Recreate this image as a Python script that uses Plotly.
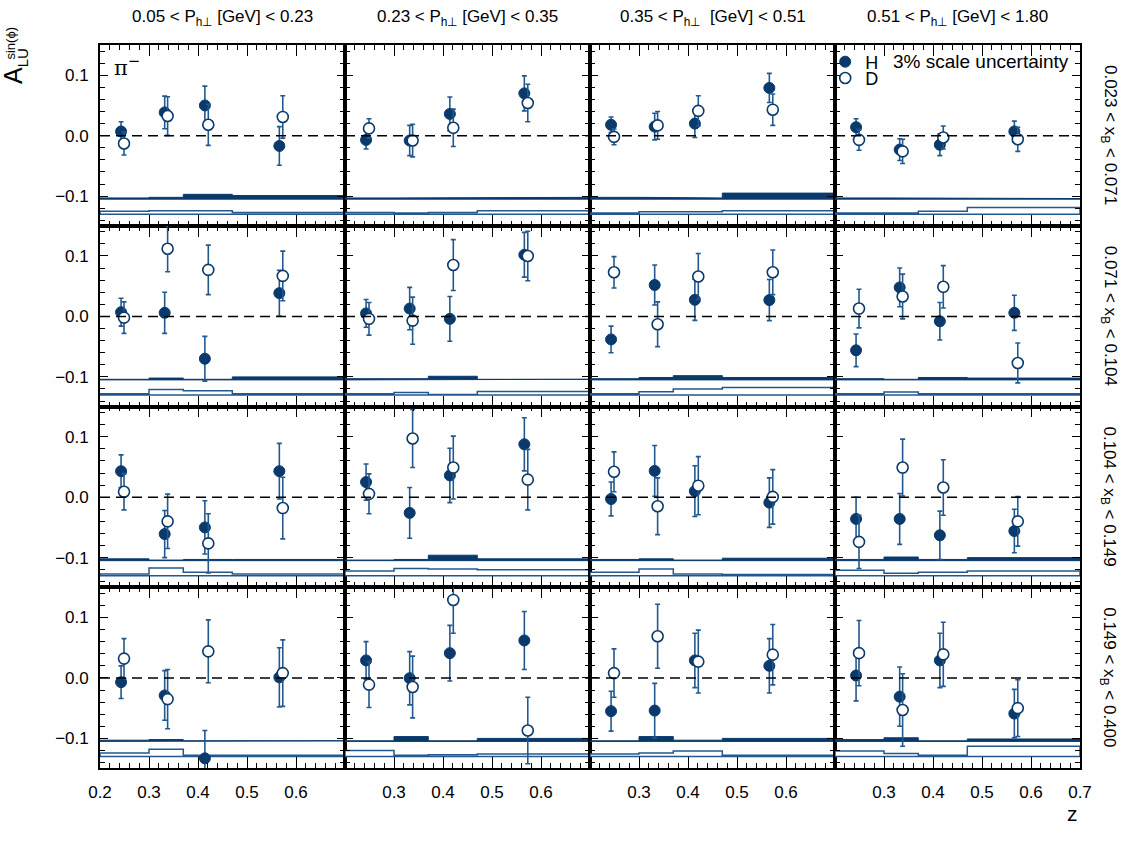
import plotly.graph_objects as go
from plotly.subplots import make_subplots

# ---------------- data ----------------
z_bin_edges = [0.2, 0.3, 0.37, 0.47, 0.7]
z_H = [0.243, 0.332, 0.414, 0.566]
z_D = [0.249, 0.338, 0.421, 0.573]

col_titles = ["0.05 < P<sub>h⊥</sub> [GeV] < 0.23", "0.23 < P<sub>h⊥</sub> [GeV] < 0.35",
              "0.35 < P<sub>h⊥</sub>  [GeV] < 0.51", "0.51 < P<sub>h⊥</sub> [GeV] < 1.80"]
row_titles = ["0.023 < x<sub>B</sub> < 0.071", "0.071 < x<sub>B</sub> < 0.104",
              "0.104 < x<sub>B</sub> < 0.149", "0.149 < x<sub>B</sub> < 0.400"]

# rows: x_B bins (top -> bottom); cols: P_h bins (left -> right); 4 z points each
H_val = [
    [[0.007, 0.0385, 0.050, -0.017], [-0.007, -0.008, 0.036, 0.070], [0.018, 0.015, 0.020, 0.079], [0.014, -0.023, -0.015, 0.007]],
    [[0.007, 0.006, -0.070, 0.0385], [0.005, 0.013, -0.004, 0.102], [-0.038, 0.052, 0.0275, 0.027], [-0.056, 0.048, -0.008, 0.006]],
    [[0.043, -0.061, -0.050, 0.043], [0.025, -0.026, 0.036, 0.0875], [-0.003, 0.0435, 0.010, -0.009], [-0.036, -0.036, -0.063, -0.056]],
    [[-0.007, -0.029, -0.133, 0.001], [0.029, -0.0005, 0.041, 0.062], [-0.055, -0.054, 0.029, 0.020], [0.004, -0.031, 0.029, -0.059]],
]
H_err = [
    [[0.016, 0.027, 0.032, 0.032], [0.015, 0.025, 0.028, 0.029], [0.013, 0.022, 0.023, 0.024], [0.014, 0.018, 0.018, 0.017]],
    [[0.023, 0.034, 0.037, 0.038], [0.023, 0.035, 0.037, 0.037], [0.022, 0.033, 0.034, 0.034], [0.027, 0.032, 0.031, 0.029]],
    [[0.027, 0.039, 0.044, 0.046], [0.030, 0.042, 0.045, 0.044], [0.028, 0.042, 0.042, 0.041], [0.036, 0.042, 0.040, 0.036]],
    [[0.027, 0.041, 0.046, 0.049], [0.031, 0.044, 0.046, 0.048], [0.033, 0.045, 0.045, 0.045], [0.042, 0.049, 0.045, 0.040]],
]
D_val = [
    [[-0.013, 0.0325, 0.018, 0.031], [0.012, -0.008, 0.013, 0.054], [-0.002, 0.017, 0.041, 0.043], [-0.007, -0.026, -0.003, -0.006]],
    [[-0.002, 0.112, 0.077, 0.067], [-0.004, -0.007, 0.085, 0.100], [0.073, -0.013, 0.066, 0.073], [0.013, 0.033, 0.049, -0.077]],
    [[0.009, -0.040, -0.0765, -0.018], [0.0055, 0.097, 0.049, 0.029], [0.042, -0.015, 0.019, 0.0005], [-0.074, 0.049, 0.016, -0.040]],
    [[0.032, -0.035, 0.044, 0.008], [-0.011, -0.015, 0.129, -0.087], [0.008, 0.069, 0.027, 0.0385], [0.041, -0.053, 0.039, -0.050]],
]
D_err = [
    [[0.019, 0.032, 0.034, 0.035], [0.016, 0.027, 0.031, 0.031], [0.013, 0.023, 0.025, 0.026], [0.017, 0.020, 0.019, 0.020]],
    [[0.026, 0.038, 0.041, 0.041], [0.027, 0.039, 0.042, 0.041], [0.026, 0.037, 0.038, 0.037], [0.032, 0.037, 0.035, 0.033]],
    [[0.030, 0.045, 0.049, 0.051], [0.033, 0.048, 0.052, 0.050], [0.033, 0.047, 0.048, 0.045], [0.044, 0.047, 0.046, 0.041]],
    [[0.033, 0.049, 0.052, 0.055], [0.038, 0.051, 0.055, 0.055], [0.040, 0.053, 0.052, 0.050], [0.054, 0.060, 0.053, 0.047]],
]
# systematic bands (heights per z bin)
H_sys = [
    [[0.002, 0.003, 0.008, 0.006], [0.002, 0.002, 0.002, 0.003], [0.003, 0.003, 0.002, 0.010], [0.002, 0.002, 0.001, 0.001]],
    [[0.001, 0.003, 0.001, 0.005], [0.002, 0.002, 0.006, 0.001], [0.002, 0.004, 0.007, 0.004], [0.002, 0.001, 0.004, 0.003]],
    [[0.003, 0.001, 0.002, 0.002], [0.001, 0.002, 0.009, 0.003], [0.002, 0.003, 0.001, 0.004], [0.002, 0.006, 0.002, 0.005]],
    [[0.002, 0.003, 0.001, 0.001], [0.001, 0.008, 0.001, 0.005], [0.001, 0.008, 0.002, 0.005], [0.003, 0.006, 0.001, 0.004]],
]
D_sys = [
    [[0.005, 0.006, 0.006, 0.003], [0.003, 0.002, 0.003, 0.006], [0.002, 0.004, 0.004, 0.006], [0.002, 0.002, 0.005, 0.011]],
    [[0.002, 0.009, 0.007, 0.002], [0.002, 0.004, 0.001, 0.006], [0.002, 0.0055, 0.010, 0.0125], [0.002, 0.005, 0.002, 0.002]],
    [[0.003, 0.013, 0.006, 0.003], [0.008, 0.012, 0.011, 0.010], [0.006, 0.011, 0.003, 0.002], [0.009, 0.004, 0.006, 0.008]],
    [[0.006, 0.012, 0.002, 0.002], [0.010, 0.002, 0.003, 0.004], [0.004, 0.006, 0.009, 0.002], [0.009, 0.005, 0.002, 0.017]],
]
H_band_base = -0.105
D_band_base = -0.130

x_tick_vals = [0.2, 0.3, 0.4, 0.5, 0.6, 0.7]
y_tick_vals = [-0.1, 0.0, 0.1]
y_tick_text = ["−0.1", "0.0", "0.1"]

# ---------------- figure ----------------
NAVY = "#0a3a6c"
BAR = "#23588f"
FONT = "Liberation Sans, Arial, sans-serif"

fig = make_subplots(rows=4, cols=4, horizontal_spacing=0, vertical_spacing=0)


def step_polygon(base, heights):
    xs, ys = [z_bin_edges[0]], [base]
    for i, h in enumerate(heights):
        xs += [z_bin_edges[i], z_bin_edges[i + 1]]
        ys += [base + h, base + h]
    xs += [z_bin_edges[-1], z_bin_edges[0]]
    ys += [base, base]
    return xs, ys


for r in range(4):
    for c in range(4):
        row, col = r + 1, c + 1
        hx, hy = step_polygon(H_band_base, H_sys[r][c])
        fig.add_trace(go.Scatter(x=hx, y=hy, mode="lines", fill="toself", fillcolor=NAVY,
                                 line=dict(color=NAVY, width=1), showlegend=False, hoverinfo="skip"),
                      row=row, col=col)
        dx, dy = step_polygon(D_band_base, D_sys[r][c])
        fig.add_trace(go.Scatter(x=dx, y=dy, mode="lines", fill="toself", fillcolor="white",
                                 line=dict(color=BAR, width=1.5), showlegend=False, hoverinfo="skip"),
                      row=row, col=col)
        fig.add_hline(y=0, line=dict(color="black", width=1.5, dash="10px,6px"), row=row, col=col)
        first = (r == 0 and c == 0)
        fig.add_trace(go.Scatter(
            x=z_H, y=H_val[r][c], mode="markers", name="H",
            marker=dict(symbol="circle", size=11, color=NAVY, line=dict(color=NAVY, width=1)),
            error_y=dict(type="data", array=H_err[r][c], color=BAR, thickness=1.6, width=2.5),
            showlegend=first, legend="legend"), row=row, col=col)
        fig.add_trace(go.Scatter(
            x=z_D, y=D_val[r][c], mode="markers", name="D",
            marker=dict(symbol="circle", size=11, color="white", line=dict(color=NAVY, width=1.6)),
            error_y=dict(type="data", array=D_err[r][c], color=BAR, thickness=1.6, width=2.5),
            showlegend=first, legend="legend2"), row=row, col=col)

        if r == 3:
            if c == 0:
                tt = ["0.2", "0.3", "0.4", "0.5", "0.6", ""]
            elif c == 3:
                tt = ["", "0.3", "0.4", "0.5", "0.6", "0.7"]
            else:
                tt = ["", "0.3", "0.4", "0.5", "0.6", ""]
        else:
            tt = [""] * 6
        fig.update_xaxes(range=[0.2, 0.7], tickmode="array", tickvals=x_tick_vals, ticktext=tt,
                         ticks="inside", ticklen=11, tickwidth=1.3, tickcolor="black",
                         minor=dict(tick0=0.2, dtick=0.02, ticks="inside", ticklen=5, tickwidth=1.2, tickcolor="black"),
                         showline=True, linecolor="black", linewidth=1.8, mirror="ticks",
                         showgrid=False, zeroline=False, ticklabelstandoff=8,
                         tickfont=dict(family=FONT, size=17, color="black"), row=row, col=col)
        fig.update_yaxes(range=[-0.149, 0.15], tickmode="array", tickvals=y_tick_vals,
                         ticktext=y_tick_text if c == 0 else [""] * 3,
                         ticks="inside", ticklen=8, tickwidth=1.3, tickcolor="black",
                         minor=dict(tick0=0.0, dtick=0.02, ticks="inside", ticklen=5, tickwidth=1.2, tickcolor="black"),
                         showline=True, linecolor="black", linewidth=1.8, mirror="ticks",
                         showgrid=False, zeroline=False, ticklabelstandoff=6,
                         tickfont=dict(family=FONT, size=17, color="black"), row=row, col=col)

annotations = []
for c, t in enumerate(col_titles):
    annotations.append(dict(text=t, x=(c + 0.5) / 4, y=1.037, xref="paper", yref="paper",
                            xanchor="center", yanchor="middle",
                            showarrow=False, font=dict(family=FONT, size=17, color="black")))
for r, t in enumerate(row_titles):
    annotations.append(dict(text=t, x=1.029, y=1 - (r + 0.5) / 4, xref="paper", yref="paper",
                            xanchor="center", yanchor="middle",
                            textangle=90, showarrow=False, font=dict(family=FONT, size=17, color="black")))
annotations += [
    dict(text="π<sup>−</sup>", x=0.012, y=0.993, xref="paper", yref="paper", xanchor="left", yanchor="top",
         showarrow=False, font=dict(family="DejaVu Serif, serif", size=21, color="black")),
    dict(text="3% scale uncertainty", x=0.807, y=0.9765, xref="paper", yref="paper", xanchor="left",
         yanchor="middle", showarrow=False, font=dict(family=FONT, size=19, color="black")),
    dict(text="z", x=0.992, y=-0.063, xref="paper", yref="paper", xanchor="center", yanchor="middle",
         showarrow=False, font=dict(family=FONT, size=21, color="black")),
    dict(text="A", x=-0.0888, y=0.9585, xref="paper", yref="paper", textangle=-90,
         xanchor="center", yanchor="middle", showarrow=False, font=dict(family=FONT, size=25, color="black")),
    dict(text="sin(ϕ)", x=-0.0918, y=0.9765, xref="paper", yref="paper", textangle=-90,
         xanchor="center", yanchor="bottom", showarrow=False, font=dict(family=FONT, size=13, color="black")),
    dict(text="LU", x=-0.0796, y=0.983, xref="paper", yref="paper", textangle=-90,
         xanchor="center", yanchor="middle", showarrow=False, font=dict(family=FONT, size=15, color="black")),
]

fig.update_layout(
    width=1140, height=842,
    margin=dict(l=100, r=60, t=45, b=74),
    paper_bgcolor="white", plot_bgcolor="white",
    font=dict(family=FONT, color="black"),
    annotations=annotations,
    legend=dict(x=0.740, y=0.9765, xanchor="left", yanchor="middle", bgcolor="rgba(0,0,0,0)",
                font=dict(family=FONT, size=18, color="black"), itemwidth=30),
    legend2=dict(x=0.740, y=0.954, xanchor="left", yanchor="middle", bgcolor="rgba(0,0,0,0)",
                 font=dict(family=FONT, size=18, color="black"), itemwidth=30),
)

fig.write_html("out.html")
